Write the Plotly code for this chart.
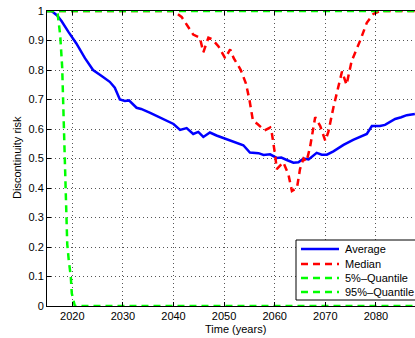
import plotly.graph_objects as go

# ---- data ----
avg_years = [2015.0, 2015.9, 2017.0, 2017.9, 2019.2, 2020.8, 2022.5, 2024.1, 2025.8, 2027.4,
             2028.4, 2029.4, 2030.4, 2031.2, 2032.7, 2033.6, 2035.4, 2037.3, 2038.8, 2040.0,
             2041.3, 2042.6, 2043.9, 2044.9, 2045.9, 2047.2, 2048.5, 2050.5, 2052.5, 2053.8,
             2055.1, 2056.8, 2057.8, 2059.1, 2060.4, 2061.3, 2062.5, 2063.7, 2064.7, 2065.7,
             2066.7, 2068.3, 2069.3, 2070.3, 2071.6, 2073.6, 2075.5, 2077.2, 2078.2, 2079.2,
             2080.8, 2081.8, 2082.8, 2083.8, 2085.0, 2086.1, 2087.7]
avg_vals = [1.0, 1.0, 0.985, 0.965, 0.93, 0.89, 0.84, 0.80, 0.78, 0.76,
            0.74, 0.70, 0.695, 0.697, 0.672, 0.668, 0.655, 0.64, 0.628, 0.617,
            0.597, 0.603, 0.583, 0.59, 0.573, 0.588, 0.578, 0.566, 0.554, 0.545,
            0.52, 0.518, 0.512, 0.514, 0.502, 0.503, 0.494, 0.486, 0.487, 0.50,
            0.497, 0.519, 0.513, 0.513, 0.524, 0.546, 0.563, 0.575, 0.583, 0.61,
            0.61, 0.614, 0.625, 0.634, 0.64, 0.647, 0.651]

med_years = [2015.0, 2040.0, 2041.6, 2043.9, 2045.2, 2045.9, 2046.9, 2047.6, 2048.9, 2050.2,
             2051.2, 2051.9, 2053.3, 2054.3, 2055.0, 2055.7, 2056.6, 2058.0, 2059.1, 2059.4,
             2060.1, 2060.4, 2061.7, 2062.7, 2063.4, 2064.4, 2065.0, 2065.7, 2066.3, 2067.0,
             2068.0, 2069.0, 2070.0, 2070.6, 2071.6, 2072.9, 2073.3, 2074.2, 2075.2, 2076.9,
             2078.2, 2079.5, 2080.8, 2087.7]
med_vals = [1.0, 1.0, 0.98, 0.92, 0.91, 0.86, 0.91, 0.905, 0.88, 0.84,
            0.87, 0.84, 0.80, 0.755, 0.70, 0.628, 0.617, 0.595, 0.605, 0.59,
            0.51, 0.464, 0.487, 0.447, 0.39, 0.40, 0.464, 0.50, 0.49, 0.54,
            0.64, 0.61, 0.56, 0.59, 0.673, 0.76, 0.795, 0.75, 0.83, 0.90,
            0.96, 0.99, 1.0, 1.0]

q5_years = [2015.0, 2016.8, 2017.1, 2017.6, 2018.0, 2018.2, 2018.4, 2018.6, 2018.8, 2019.0,
            2019.3, 2019.7, 2019.9, 2020.3, 2020.5, 2087.7]
q5_vals = [1.0, 1.0, 0.99, 0.92, 0.81, 0.70, 0.585, 0.48, 0.38, 0.21,
           0.155, 0.10, 0.043, 0.005, 0.0, 0.0]

q95_years = [2015.0, 2087.7]
q95_vals = [1.0, 1.0]

series_names = ["Average", "Median", "5%\u2013Quantile", "95%\u2013Quantile"]
x_ticks = [2020, 2030, 2040, 2050, 2060, 2070, 2080]
y_ticks = [0, 0.1, 0.2, 0.3, 0.4, 0.5, 0.6, 0.7, 0.8, 0.9, 1]
y_tick_text = ["0", "0.1", "0.2", "0.3", "0.4", "0.5", "0.6", "0.7", "0.8", "0.9", "1"]

BLUE = "#0000FF"
RED = "#FF0000"
GREEN = "#00FF00"
DASH = "7px,5px"
FONT = "Liberation Sans, Arial, Helvetica, sans-serif"

fig = go.Figure()
fig.add_trace(go.Scatter(x=avg_years, y=avg_vals, mode="lines", name=series_names[0],
                         line=dict(color=BLUE, width=2.5), cliponaxis=False))
fig.add_trace(go.Scatter(x=med_years, y=med_vals, mode="lines", name=series_names[1],
                         line=dict(color=RED, width=2.5, dash=DASH), cliponaxis=False))
fig.add_trace(go.Scatter(x=q5_years, y=q5_vals, mode="lines", name=series_names[2],
                         line=dict(color=GREEN, width=2.5, dash=DASH), cliponaxis=False))
fig.add_trace(go.Scatter(x=q95_years, y=q95_vals, mode="lines", name=series_names[3],
                         line=dict(color=GREEN, width=2.5, dash=DASH), cliponaxis=False))

W, H = 415, 338
L, T, BOT = 47, 11, 306
B = H - BOT
pw = W - L
ph = BOT - T

def px(x):
    return (x - L) / pw

def py(y):
    return (BOT - y) / ph

# custom legend box (MATLAB style)
shapes = [dict(type="rect", xref="paper", yref="paper", x0=px(296), x1=px(440),
               y0=py(300), y1=py(240), line=dict(color="black", width=1),
               fillcolor="white", layer="above")]
annotations = []
leg_colors = [BLUE, RED, GREEN, GREEN]
leg_dash = ["solid", DASH, DASH, DASH]
leg_y = [249, 264, 278, 292]
for name, c, d, yy in zip(series_names, leg_colors, leg_dash, leg_y):
    shapes.append(dict(type="line", xref="paper", yref="paper", x0=px(301), x1=px(339),
                       y0=py(yy), y1=py(yy), line=dict(color=c, width=2.5, dash=d),
                       layer="above"))
    annotations.append(dict(text=name, xref="paper", yref="paper", x=px(343), y=py(yy),
                            xanchor="left", yanchor="middle", showarrow=False,
                            font=dict(size=11, color="black", family=FONT)))

annotations.append(dict(text="Time (years)", xref="paper", yref="paper", x=px(235), y=py(329),
                        xanchor="center", yanchor="middle", showarrow=False,
                        font=dict(size=11, color="black", family=FONT)))
annotations.append(dict(text="Discontinuity risk", xref="paper", yref="paper", x=px(17),
                        y=py(158), xanchor="center", yanchor="middle", textangle=-90,
                        showarrow=False, font=dict(size=11, color="black", family=FONT)))

fig.update_layout(
    width=W, height=H, autosize=False,
    margin=dict(l=L, r=0, t=T, b=B),
    paper_bgcolor="white", plot_bgcolor="white",
    showlegend=False,
    font=dict(family=FONT, size=11, color="black"),
    shapes=shapes, annotations=annotations,
)
fig.update_xaxes(range=[2015, 2015 + pw / 5.06], tickmode="array", tickvals=x_ticks,
                 ticks="inside", ticklen=4, tickcolor="black", showline=True, linecolor="black",
                 linewidth=1, mirror="ticks", showgrid=True, gridcolor="#555555", gridwidth=1,
                 griddash="1px,3px", zeroline=False, tickfont=dict(size=11),
                 ticklabeloverflow="allow")
fig.update_yaxes(range=[0, 1], tickmode="array", tickvals=y_ticks, ticktext=y_tick_text,
                 ticks="inside", ticklen=4, tickcolor="black", showline=True, linecolor="black",
                 linewidth=1, mirror=False, showgrid=True, gridcolor="#555555", gridwidth=1,
                 griddash="1px,3px", zeroline=False, tickfont=dict(size=11),
                 ticklabeloverflow="allow")

fig.write_html("out.html", config={"displayModeBar": False, "staticPlot": True},
               post_script="document.body.style.margin='0';document.body.style.overflow='hidden';")
